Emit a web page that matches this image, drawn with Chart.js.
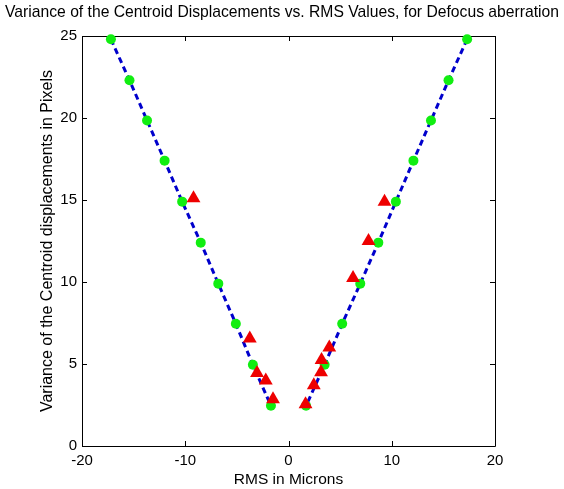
<!DOCTYPE html>
<html>
<head>
<meta charset="utf-8">
<script src="https://cdn.jsdelivr.net/npm/chart.js@4.4.0/dist/chart.umd.min.js"></script>
<style>
  html, body { margin: 0; padding: 0; background: #fff; }
  #wrap { width: 564px; height: 489px; position: relative; }
</style>
</head>
<body>
<div id="wrap"><canvas id="c" width="564" height="489"></canvas></div>
<script>
// ---- data ----
const titleText = 'Variance of the Centroid Displacements vs. RMS Values, for Defocus aberration';
const xLabel = 'RMS in Microns';
const yLabel = 'Variance of the Centroid displacements in Pixels';

const xTicks = [-20, -10, 0, 10, 20];
const yTicks = [0, 5, 10, 15, 20, 25];

// green circles, two branches sharing the same variance values
const greenY      = [24.8, 22.3, 19.85, 17.4, 14.9, 12.4, 9.9, 7.45, 4.95, 2.45];
const greenLeftX  = [-17.2, -15.4, -13.7, -12.0, -10.3, -8.5, -6.8, -5.1, -3.45, -1.7];
const greenRightX = [17.3, 15.5, 13.8, 12.1, 10.4, 8.7, 6.95, 5.2, 3.5, 1.7];

// red triangles
const redX = [-9.2, -3.75, -3.05, -2.2, -1.5, 1.65, 2.45, 3.15, 3.2, 3.95, 6.25, 7.75, 9.3];
const redY = [15.1, 6.55, 4.45, 4.0, 2.85, 2.55, 3.7, 4.5, 5.25, 6.0, 10.25, 12.5, 14.9];

const pts = (xs, ys) => xs.map((x, i) => ({ x: x, y: ys[i] }));

const FONT = 'Liberation Sans, Arial, sans-serif';

const framePlugin = {
  id: 'frame',
  beforeDatasetsDraw(chart) {
    const { ctx, chartArea: a, scales } = chart;
    ctx.save();
    ctx.strokeStyle = '#000';
    ctx.lineWidth = 1;
    ctx.beginPath();
    ctx.rect(Math.round(a.left) + 0.5, Math.round(a.top) + 0.5,
             Math.round(a.right - a.left), Math.round(a.bottom - a.top));
    ctx.stroke();
    const L = 5;
    ctx.beginPath();
    xTicks.forEach(v => {
      const px = Math.round(scales.x.getPixelForValue(v)) + 0.5;
      ctx.moveTo(px, a.bottom); ctx.lineTo(px, a.bottom - L);
      ctx.moveTo(px, a.top); ctx.lineTo(px, a.top + L);
    });
    yTicks.forEach(v => {
      const py = Math.round(scales.y.getPixelForValue(v)) + 0.5;
      ctx.moveTo(a.left, py); ctx.lineTo(a.left + L, py);
      ctx.moveTo(a.right, py); ctx.lineTo(a.right - L, py);
    });
    ctx.stroke();
    ctx.restore();
  }
};

new Chart(document.getElementById('c'), {
  type: 'scatter',
  data: {
    datasets: [
      {
        label: 'red', data: pts(redX, redY), order: 1,
        pointStyle: 'triangle', pointRadius: 8, pointHoverRadius: 8,
        backgroundColor: '#ee0000', borderColor: '#ee0000', borderWidth: 0, clip: false
      },
      {
        label: 'greenL', data: pts(greenLeftX, greenY), order: 2,
        pointStyle: 'circle', pointRadius: 5, pointHoverRadius: 5,
        backgroundColor: '#11ee11', borderColor: '#11ee11', borderWidth: 0, clip: false
      },
      {
        label: 'greenR', data: pts(greenRightX, greenY), order: 2,
        pointStyle: 'circle', pointRadius: 5, pointHoverRadius: 5,
        backgroundColor: '#11ee11', borderColor: '#11ee11', borderWidth: 0, clip: false
      },
      {
        label: 'fitL', data: pts(greenLeftX, greenY), order: 3, showLine: true,
        pointRadius: 0, borderColor: '#0000cc', borderWidth: 3, borderDash: [6, 4], clip: false
      },
      {
        label: 'fitR', data: pts(greenRightX, greenY), order: 3, showLine: true,
        pointRadius: 0, borderColor: '#0000cc', borderWidth: 3, borderDash: [6, 4], clip: false
      }
    ]
  },
  options: {
    responsive: false,
    animation: false,
    events: [],
    layout: { padding: 0 },
    plugins: {
      legend: { display: false },
      tooltip: { enabled: false },
      title: {
        display: true, text: titleText, color: '#000',
        font: { family: FONT, size: 15.7, weight: 'normal', lineHeight: 1.2 },
        padding: { top: 3.6, bottom: 13.56 }
      }
    },
    scales: {
      x: {
        type: 'linear', min: -20, max: 20,
        afterBuildTicks: s => { s.ticks = xTicks.map(v => ({ value: v })); },
        afterFit: s => { s.height = 43; },
        grid: { display: false, drawTicks: false },
        border: { display: false },
        ticks: { color: '#000', padding: 6, font: { family: FONT, size: 15 } },
        title: { display: true, text: xLabel, color: '#000',
                 font: { family: FONT, size: 15.5, lineHeight: 1.2 }, padding: { top: 0, bottom: 0 } }
      },
      y: {
        type: 'linear', min: 0, max: 25,
        afterBuildTicks: s => { s.ticks = yTicks.map(v => ({ value: v })); },
        afterFit: s => { s.width = 82; },
        grid: { display: false, drawTicks: false },
        border: { display: false },
        ticks: { color: '#000', padding: 5, font: { family: FONT, size: 15 } },
        title: { display: true, text: yLabel, color: '#000',
                 font: { family: FONT, size: 16, lineHeight: 1.2 }, padding: { top: 38.4, bottom: 38.4 } }
      },
      yRightSpace: {
        type: 'linear', position: 'right', min: 0, max: 1, display: true,
        afterFit: s => { s.width = 69; },
        grid: { display: false, drawTicks: false },
        border: { display: false },
        ticks: { display: false }
      }
    }
  },
  plugins: [framePlugin]
});
</script>
</body>
</html>
